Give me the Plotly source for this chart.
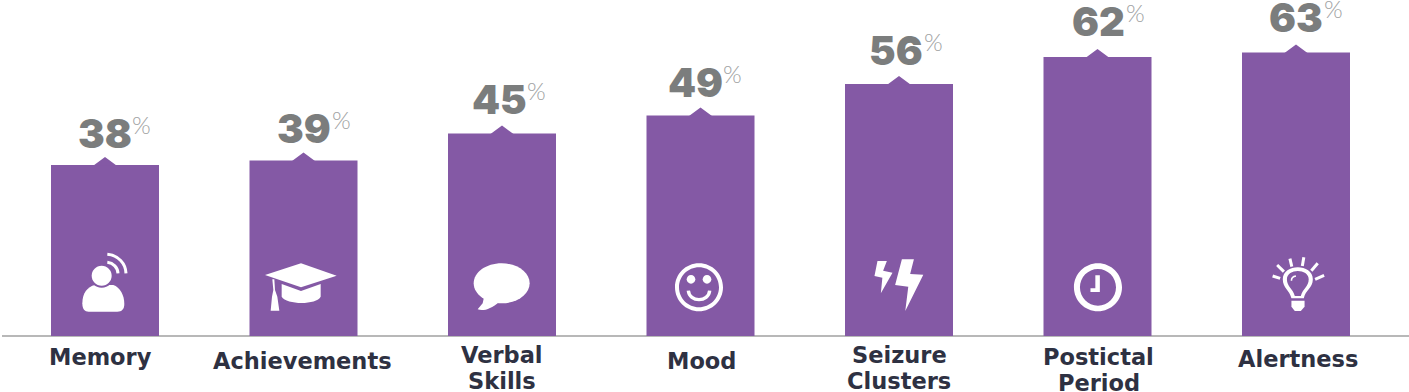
import re
import plotly.graph_objects as go

# ---- data ----
categories = ["Memory", "Achievements", "Verbal Skills", "Mood", "Seizure Clusters", "Postictal Period", "Alertness"]
values = [38, 39, 45, 49, 56, 62, 63]
label_line1 = ["Memory", "Achievements", "Verbal", "Mood", "Seizure", "Postictal", "Alertness"]
label_line2 = ["", "", "Skills", "", "Clusters", "Period", ""]

# ---- layout constants (pixels) ----
W, H = 1409, 392
BASE = 336
PX_PER_UNIT = 4.5
CX0, STEP = 105, 198.5
BAR_PX = 108
LEFT = 2
PURPLE = "#8459a5"

label_y = [357, 361, 355, 361, 355, 357, 359]       # centre of first label line
label_dx = [-5, -1, 0, 1, 0, 1, 2]
num_dx = [-0.5, 0.5, -3, -5, -3, 1, 0]
num_gap = [17, 18, 20, 19, 19, 21, 21]              # px between digits and bar top

positions = list(range(len(categories)))
centers = [CX0 + STEP * p for p in positions]


def flip(d, kx, ky, ox, oy, cx):
    """Icon path read in zoomed picture coords -> pixels relative to (bar centre, baseline), y up."""
    out, nums = [], 0
    for tok in re.findall(r"[MLCQZ]|-?\d+\.?\d*", d):
        if tok.isalpha():
            out.append(tok)
            nums = 0
        else:
            v = float(tok)
            if nums % 2 == 0:
                out.append(f"{v / kx + ox - cx:.2f}")
            else:
                out.append(f"{BASE - (v / ky + oy):.2f}")
            nums += 1
    return " ".join(out)


def ell(cx, cy, rx, ry=None):
    ry = rx if ry is None else ry
    m = 0.5523
    return (f"M{cx-rx},{cy} C{cx-rx},{cy-m*ry} {cx-m*rx},{cy-ry} {cx},{cy-ry} "
            f"C{cx+m*rx},{cy-ry} {cx+rx},{cy-m*ry} {cx+rx},{cy} "
            f"C{cx+rx},{cy+m*ry} {cx+m*rx},{cy+ry} {cx},{cy+ry} "
            f"C{cx-m*rx},{cy+ry} {cx-rx},{cy+m*ry} {cx-rx},{cy} Z")


Z1 = (3, 3, 0, 100)
Z2 = (3, 3, 400, 60)
Z3 = (1568 / 589, 3, 820, 0)

# (bar index, zoom frame, path, kind, colour/line width)
icons = [
    # memory
    (0, Z1, "M247,610 C247,580 262,560 285,555 L340,555 C360,562 373,585 373,612 C373,628 365,635 352,635 L266,635 C254,635 247,628 247,610 Z", "fill", "white"),
    (0, Z1, ell(305, 527, 36), "fill", PURPLE),
    (0, Z1, ell(305, 527, 30), "fill", "white"),
    (0, Z1, "M322,463 C355,466 377,490 378,520", "line", 3),
    (0, Z1, "M322,487 C340,489 353,502 354,520", "line", 3),
    # achievements
    (1, Z1, "M795,525 L903,490 L1010,527 L903,562 Z", "fill", "white"),
    (1, Z1, "M845,552 L903,573 L962,552 L962,590 C950,615 860,615 845,590 Z", "fill", "white"),
    (1, Z1, "M817,538 L823,538 L825,570 L832,590 L838,632 L812,632 L816,590 L820,570 Z", "fill", "white"),
    # verbal skills
    (2, Z2, ell(305, 670, 84, 60), "fill", "white"),
    (2, Z2, "M252,712 L248,730 L233,748 C250,755 275,745 295,728 Z", "fill", "white"),
    # mood
    (3, Z2, ell(897, 682, 72) + " " + ell(897, 682, 60), "even", "white"),
    (3, Z2, ell(873, 658, 13), "fill", "white"),
    (3, Z2, ell(921, 658, 13), "fill", "white"),
    (3, Z2, "M865,692 C868,728 926,728 929,692", "line", 3.4),
    # seizure clusters
    (4, Z3, "M153,783 L178,783 L168,812 L193,818 L162,880 L166,833 L145,828 Z", "fill", "white"),
    (4, Z3, "M218,778 L250,778 L240,822 L275,824 L227,933 L235,860 L200,855 Z", "fill", "white"),
    # postictal period
    (5, Z3, ell(740, 862, 64, 72) + " " + ell(740, 862, 48, 55), "even", "white"),
    (5, Z3, "M733,826 L745,826 L745,876 L720,876 L720,865 L733,865 Z", "fill", "white"),
    # alertness
    (6, Z3, "M1255,895 C1250,870 1232,865 1232,838 C1232,790 1312,790 1312,838 C1312,865 1292,870 1288,895 Z "
            "M1264,888 C1258,865 1243,860 1243,838 C1243,805 1301,805 1301,838 C1301,860 1286,865 1280,888 Z", "even", "white"),
    (6, Z3, "M1255,902 L1290,902 L1290,920 L1280,933 L1264,933 L1255,920 Z", "fill", "white"),
    (6, Z3, "M1205,828 L1225,835", "line", 3),
    (6, Z3, "M1217,795 L1235,815", "line", 3),
    (6, Z3, "M1251,776 L1256,800", "line", 3),
    (6, Z3, "M1288,772 L1284,798", "line", 3),
    (6, Z3, "M1325,790 L1308,812", "line", 3),
    (6, Z3, "M1342,826 L1318,838", "line", 3),
    (6, Z3, "M1255,842 C1255,834 1260,829 1267,828", "line", 1.6),
]

fig = go.Figure()

# bars
fig.add_trace(go.Bar(x=positions, y=values, width=BAR_PX / STEP, marker=dict(color=PURPLE, line=dict(width=0)),
                     hovertext=categories, hoverinfo="text+y"))

# little peak on top of every bar
notch_half = 11.5 / STEP
notch_h = 8 / PX_PER_UNIT
nx, ny = [], []
for p, v in zip(positions, values):
    nx += [p - notch_half, p, p + notch_half, None]
    ny += [v - 0.1, v + notch_h, v - 0.1, None]
fig.add_trace(go.Scatter(x=nx, y=ny, mode="lines", fill="toself", fillcolor=PURPLE, line=dict(width=0),
                         hoverinfo="skip"))

shapes = []
for idx, (kx, ky, ox, oy), path, kind, style in icons:
    s = dict(type="path", xref="x", yref="y", xsizemode="pixel", ysizemode="pixel",
             xanchor=positions[idx], yanchor=0, path=flip(path, kx, ky, ox, oy, centers[idx]), layer="above")
    if kind == "line":
        s.update(fillcolor="rgba(0,0,0,0)", line=dict(color="white", width=style))
    else:
        s.update(fillcolor=style, line=dict(width=0))
        if kind == "even":
            s["fillrule"] = "evenodd"
    shapes.append(s)

annotations = []
LABEL_FONT = dict(family="DejaVu Sans", size=22.5, color="#2e3142", weight="bold")
for i, p in enumerate(positions):
    v = values[i]
    # value digits + thin percent
    annotations.append(dict(x=p, y=v, text=str(v), showarrow=False, xanchor="center", yanchor="bottom",
                            xshift=num_dx[i], yshift=num_gap[i] - 10, borderpad=0, borderwidth=0,
                            font=dict(family="Inter", size=40, color="#7b7d7d", weight=900)))
    annotations.append(dict(x=p, y=v, text="%", showarrow=False, xanchor="center", yanchor="bottom",
                            xshift=num_dx[i] + 37, yshift=num_gap[i] + 9, borderpad=0, borderwidth=0,
                            font=dict(family="Lato", size=24, color="#a0a2a2", weight=300)))
    # category labels (two separate rows, tighter than the default line height)
    annotations.append(dict(x=p, y=0, text=label_line1[i], showarrow=False, xanchor="center", yanchor="middle",
                            xshift=label_dx[i], yshift=BASE - label_y[i], font=LABEL_FONT))
    if label_line2[i]:
        annotations.append(dict(x=p, y=0, text=label_line2[i], showarrow=False, xanchor="center", yanchor="middle",
                                xshift=label_dx[i], yshift=BASE - label_y[i] - 26, font=LABEL_FONT))

fig.update_layout(
    width=W, height=H, margin=dict(l=LEFT, r=0, t=0, b=0, pad=0),
    paper_bgcolor="white", plot_bgcolor="white", showlegend=False, barmode="overlay",
    shapes=shapes, annotations=annotations,
    xaxis=dict(range=[(LEFT - CX0) / STEP, (W - CX0) / STEP], visible=False, fixedrange=True),
    yaxis=dict(range=[-(H - BASE) / PX_PER_UNIT, BASE / PX_PER_UNIT], showgrid=False, showticklabels=False,
               ticks="", showline=False, zeroline=True, zerolinecolor="#b8b8b8", zerolinewidth=2, fixedrange=True),
)

fig.write_html("out.html", config=dict(displayModeBar=False),
               post_script="document.body.style.margin='0';document.body.style.overflow='hidden';")
